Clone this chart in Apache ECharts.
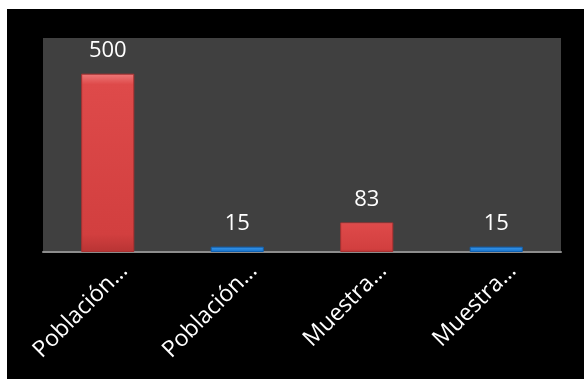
<!DOCTYPE html>
<html><head><meta charset="utf-8">
<script src="https://cdn.jsdelivr.net/npm/echarts@6/dist/echarts.min.js"></script>
<style>html,body{margin:0;padding:0;background:#fff;width:584px;height:379px;overflow:hidden}
#c{position:absolute;left:7px;top:9px;width:577px;height:370px}</style>
</head><body><div id="c"></div>
<script>
const categories = ['Población…', 'Población…', 'Muestra…', 'Muestra…'];
const values = [500, 15, 83, 15];
const barKinds = ['red', 'blue', 'red', 'blue'];

const redFill = new echarts.graphic.LinearGradient(0, 0, 0, 1, [
  {offset: 0, color: '#ee7a7a'}, {offset: 0.06, color: '#de4a4a'}, {offset: 0.9, color: '#d23f3f'}, {offset: 1, color: '#b83434'}]);
const blueFill = new echarts.graphic.LinearGradient(0, 0, 0, 1, [
  {offset: 0, color: '#3a9bf0'}, {offset: 1, color: '#1670c8'}]);

const chart = echarts.init(document.getElementById('c'));
chart.setOption({
  backgroundColor: '#000',
  animation: false,
  grid: {left: 36, right: 23, top: 29, bottom: 127, show: true, backgroundColor: '#404040', borderWidth: 0},
  xAxis: {
    type: 'category', data: categories,
    axisLine: {lineStyle: {color: '#8c8c8c', width: 2}},
    axisTick: {show: false},
    axisLabel: {rotate: 45, color: '#fff', fontSize: 23, fontFamily: 'Open Sans', margin: -1, interval: 0,
      verticalAlign: 'top', lineHeight: 46}
  },
  yAxis: {type: 'value', min: 0, max: 600, show: false, splitLine: {show: false}},
  series: [{
    type: 'bar', barWidth: '41%',
    data: values.map((v, i) => ({value: v, itemStyle: {color: barKinds[i] === 'red' ? redFill : blueFill,
      borderColor: barKinds[i] === 'red' ? '#a83030' : '#1060b0', borderWidth: 1}})),
    label: {show: true, position: 'top', distance: 12, color: '#fff', fontSize: 22, fontFamily: 'Open Sans'}
  }]
});
</script></body></html>
